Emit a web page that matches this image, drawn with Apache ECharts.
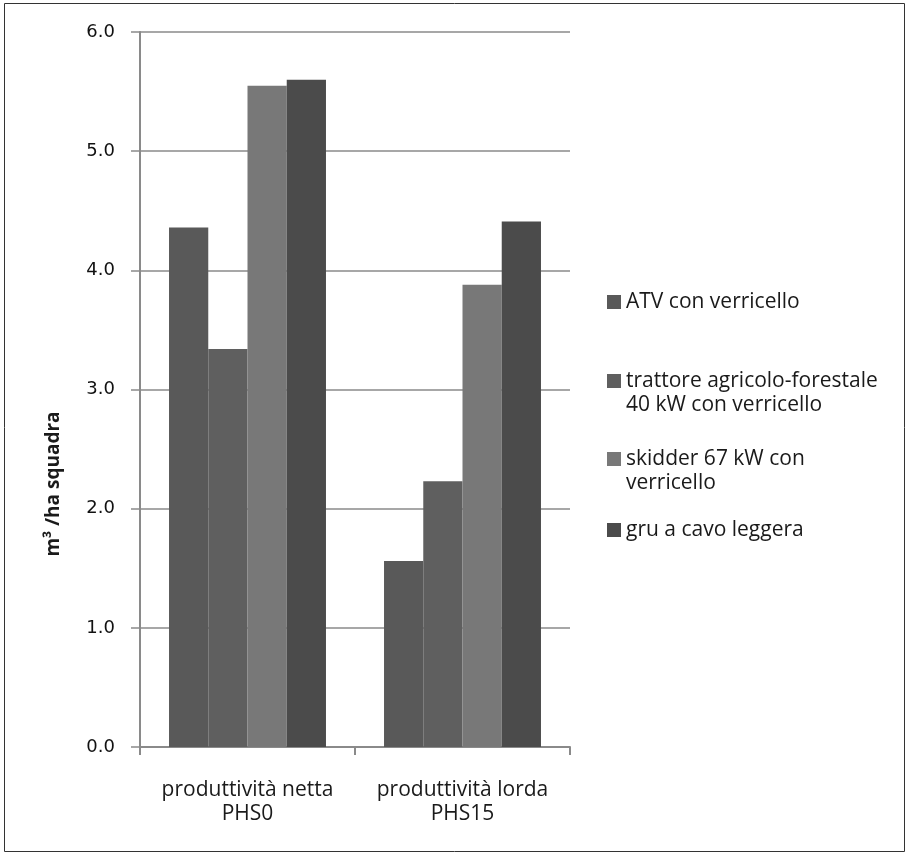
<!DOCTYPE html>
<html>
<head>
<meta charset="utf-8">
<script src="https://cdn.jsdelivr.net/npm/echarts@6/dist/echarts.min.js"></script>
<style>
html,body{margin:0;padding:0;background:#fff;}
#c{width:908px;height:856px;}
</style>
</head>
<body>
<div id="c"></div>
<script>
var categories = ["produttività netta\nPHS0", "produttività lorda\nPHS15"];
var seriesNames = ["ATV con verricello", "trattore agricolo-forestale 40 kW con verricello", "skidder 67 kW con verricello", "gru a cavo leggera"];
var legendText = ["ATV con verricello", "trattore agricolo-forestale\n40 kW con verricello", "skidder 67 kW con\nverricello", "gru a cavo leggera"];
var atvValues = [4.36, 1.56];
var trattoreValues = [3.34, 2.23];
var skidderValues = [5.55, 3.88];
var gruValues = [5.60, 4.41];
var yTicks = [0, 1, 2, 3, 4, 5, 6];
var yAxisTitle = "m³ /ha squadra";

var colors = ["#595959", "#5f5f5f", "#787878", "#4b4b4b"];
var allValues = [atvValues, trattoreValues, skidderValues, gruValues];
var legendIconCenters = [302, 381, 459, 530];

var chart = echarts.init(document.getElementById('c'), null, {renderer: 'canvas'});

var series = seriesNames.map(function (n, i) {
  return {
    name: n,
    type: 'bar',
    data: allValues[i],
    barGap: '0%',
    barCategoryGap: '27%',
    itemStyle: {color: colors[i]}
  };
});

var legends = seriesNames.map(function (n, i) {
  var lines = legendText[i].split('\n').length;
  return {
    data: [n],
    orient: 'vertical',
    left: 607,
    top: legendIconCenters[i] - (lines > 1 ? 36 : 12),
    padding: 0,
    itemWidth: 14,
    itemHeight: 14,
    icon: 'rect',
    selectedMode: false,
    formatter: function () { return lines > 1 ? ' \n' + legendText[i] : legendText[i]; },
    textStyle: {
      fontFamily: 'Open Sans',
      fontSize: 21,
      color: '#1a1a1a',
      lineHeight: 24
    }
  };
});

chart.setOption({
  animation: false,
  backgroundColor: '#fff',
  color: colors,
  grid: {left: 140, right: 338, top: 32, bottom: 109, containLabel: false},
  legend: legends,
  xAxis: {
    type: 'category',
    data: categories,
    axisLine: {lineStyle: {color: '#8a8a8a', width: 2}},
    axisTick: {show: true, length: 8, lineStyle: {color: '#8a8a8a', width: 2}},
    axisLabel: {
      interval: 0,
      hideOverlap: false,
      fontFamily: 'Open Sans',
      fontSize: 21,
      color: '#1a1a1a',
      lineHeight: 24,
      margin: 31
    }
  },
  yAxis: {
    type: 'value',
    min: yTicks[0],
    max: yTicks[yTicks.length - 1],
    interval: 1,
    axisLine: {show: true, lineStyle: {color: '#8a8a8a', width: 2}},
    axisTick: {show: true, length: 9, lineStyle: {color: '#8a8a8a', width: 1.5}},
    splitLine: {lineStyle: {color: '#8a8a8a', width: 1.5}},
    axisLabel: {
      fontFamily: 'DejaVu Sans',
      fontSize: 18,
      color: '#111',
      margin: 25,
      formatter: function (v) { return v.toFixed(1); }
    }
  },
  graphic: [
    {
      type: 'text',
      x: 54,
      y: 484,
      rotation: Math.PI / 2,
      style: {
        text: yAxisTitle,
        font: 'bold 19px "Open Sans"',
        fill: '#1a1a1a',
        align: 'center',
        verticalAlign: 'middle'
      }
    },
    {
      type: 'rect',
      shape: {x: 4.5, y: 3.5, width: 900, height: 848},
      style: {fill: 'none', stroke: '#333', lineWidth: 1},
      silent: true
    }
  ],
  series: series
});
</script>
</body>
</html>
